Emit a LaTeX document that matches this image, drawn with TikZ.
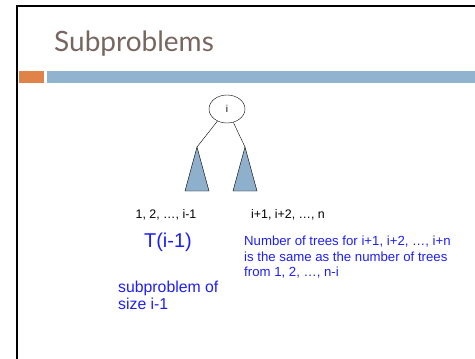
\documentclass[tikz,border=0pt]{standalone}
\usepackage{fontspec}
\setmainfont{Liberation Sans}
\newfontfamily\titlefont{Lato}
\usepackage{xcolor}
\usetikzlibrary{shapes.geometric}

\definecolor{titlebrown}{RGB}{120,102,96}
\definecolor{barorange}{RGB}{223,131,72}
\definecolor{barblue}{RGB}{146,179,207}
\definecolor{treeblue}{RGB}{143,176,205}
\definecolor{noteblue}{RGB}{30,30,250}

\begin{document}
\begin{tikzpicture}[x=1pt, y=-1pt,
    root/.style={draw, ellipse, minimum width=36pt, minimum height=28pt, inner sep=0pt, font=\fontsize{10}{11}\selectfont},
    subtree/.style={draw, fill=treeblue, line join=miter},
    edge/.style={thin},
    seq/.style={anchor=base, inner sep=0pt, font=\fontsize{12.4}{14}\selectfont},
    note/.style={text=noteblue, inner sep=0pt, align=left}
]
\useasboundingbox (0,0) rectangle (475,359);

% Slide frame and title
\draw[line width=2.5pt] (17,359) -- (17,6) -- (475,6);
\fill[barorange] (19,71) rectangle (44,83);
\fill[barblue] (47,71) rectangle (475,83);
\node[anchor=base west, inner sep=0pt, text=titlebrown, font=\titlefont\fontsize{28}{32}\selectfont] (title) at (54,51) {Subproblems};

% Root and the two subtrees
\node[root] (r) at (227,109) {i};
\coordinate (lt) at (197,147);
\coordinate (rt) at (245,147);
\draw[subtree] (lt) -- (209,191) -- (185,191) -- cycle;
\draw[subtree] (rt) -- (257,191) -- (233,191) -- cycle;
\draw[edge] (r) -- (lt);
\draw[edge] (r) -- (rt);

% Key ranges
\node[seq] (lkeys) at (166,218) {1, 2, …, i-1};
\node[seq] (rkeys) at (288,218) {i+1, i+2, …, n};

% Notes
\node[note, anchor=north west, font=\fontsize{13.2}{15.3}\selectfont] (tr) at (244,236)
    {Number of trees for i+1, i+2, …, i+n\\is the same as the number of trees\\from 1, 2, …, n-i};
\node[note, anchor=base, font=\fontsize{20}{24}\selectfont] (tl) at (168,247) {T(i-1)};
\node[note, anchor=north west, font=\fontsize{15.8}{17}\selectfont] (sub) at (118,281)
    {subproblem of\\size i-1};
\end{tikzpicture}
\end{document}
